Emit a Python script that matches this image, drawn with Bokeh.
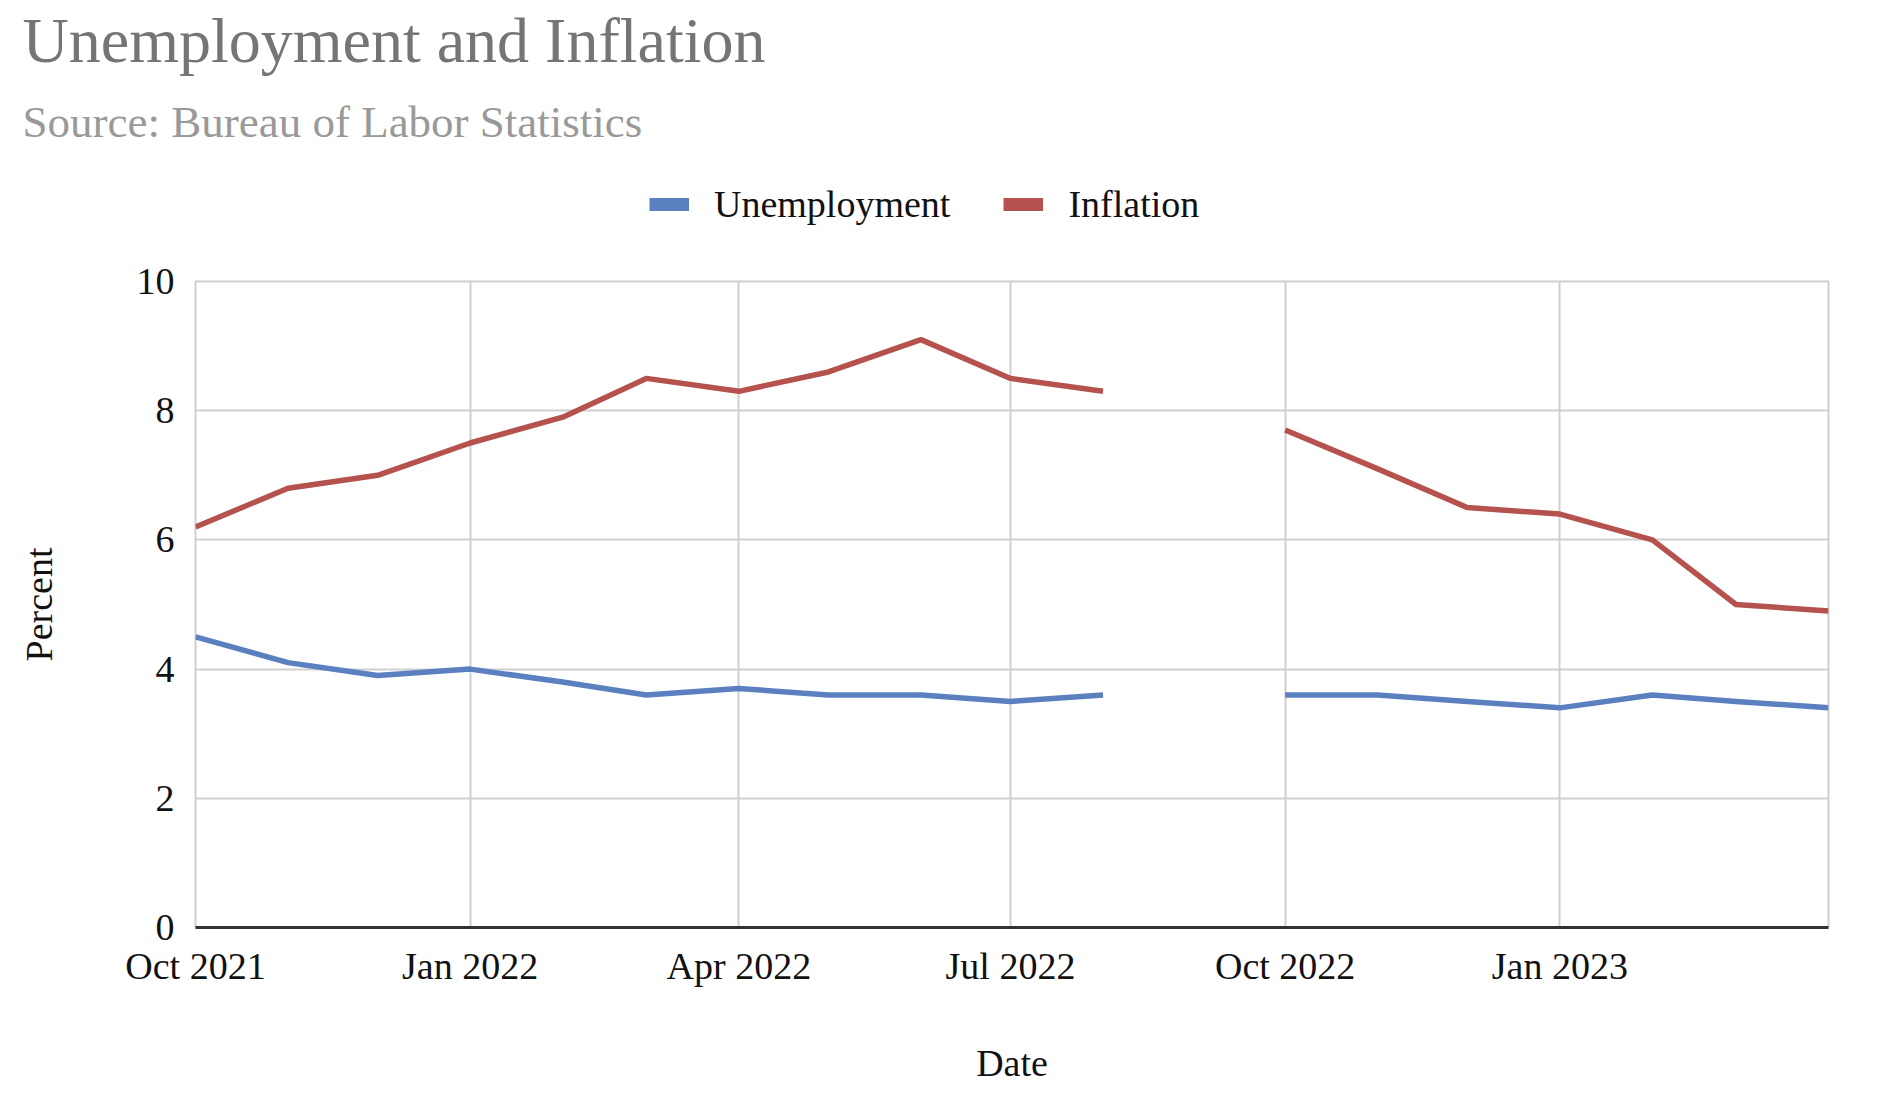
import numpy as np
import pandas as pd
from bokeh.plotting import figure
from bokeh.models import (Range1d, FixedTicker, DatetimeTickFormatter, Label,
                          Legend, LegendItem, ColumnDataSource)
from bokeh.embed import file_html
from bokeh.resources import INLINE

# ---------------- data ----------------
months = ["2021-10", "2021-11", "2021-12", "2022-01", "2022-02", "2022-03",
          "2022-04", "2022-05", "2022-06", "2022-07", "2022-08", "2022-09",
          "2022-10", "2022-11", "2022-12", "2023-01", "2023-02", "2023-03",
          "2023-04"]
unemployment = [4.5, 4.1, 3.9, 4.0, 3.8, 3.6, 3.7, 3.6, 3.6, 3.5, 3.6, None,
                3.6, 3.6, 3.5, 3.4, 3.6, 3.5, 3.4]
inflation = [6.2, 6.8, 7.0, 7.5, 7.9, 8.5, 8.3, 8.6, 9.1, 8.5, 8.3, None,
             7.7, 7.1, 6.5, 6.4, 6.0, 5.0, 4.9]
tick_months = ["2021-10", "2022-01", "2022-04", "2022-07", "2022-10", "2023-01"]
y_ticks = [0, 2, 4, 6, 8, 10]

title_text = "Unemployment and Inflation"
subtitle_text = "Source: Bureau of Labor Statistics"
series_names = ["Unemployment", "Inflation"]
series_colors = ["#5a80c0", "#b5524d"]

FONT = "Liberation Serif"
W = 1904
HEAD_H = 241
MAIN_H = 1112 - HEAD_H

dates = pd.to_datetime(months)
src = ColumnDataSource(dict(
    x=dates,
    u=[np.nan if v is None else v for v in unemployment],
    i=[np.nan if v is None else v for v in inflation],
))

# ---------------- header: title, subtitle, legend ----------------
head = figure(width=W, height=HEAD_H, output_backend="svg", toolbar_location=None,
              x_range=Range1d(0, W), y_range=Range1d(HEAD_H, 0),
              x_axis_location=None, y_axis_location=None,
              min_border=0, title=None)
head.grid.visible = False
head.outline_line_color = None

head.add_layout(Label(x=22, y=40, text=title_text, text_align="left",
                      text_baseline="alphabetic", text_font=FONT,
                      text_font_size="64px", text_color="#757575"))
head.add_layout(Label(x=22, y=121, text=subtitle_text, text_align="left",
                      text_baseline="alphabetic", text_font=FONT,
                      text_font_size="45px", text_color="#999999"))

swatches = []
for c in series_colors:
    r = head.line(x=[0], y=[np.nan], line_color=c, line_width=13, line_cap="butt")
    swatches.append(r)
legend = Legend(items=[LegendItem(label=n, renderers=[r]) for n, r in zip(series_names, swatches)],
                orientation="horizontal", location=(649, HEAD_H - 226),
                glyph_width=40, glyph_height=42, label_height=42,
                label_standoff=25, spacing=53, padding=0, margin=0,
                border_line_color=None, background_fill_alpha=0,
                label_text_font=FONT, label_text_font_size="38px",
                label_text_color="#111111")
head.add_layout(legend)

# ---------------- main chart ----------------
p = figure(width=W, height=MAIN_H, output_backend="svg", toolbar_location=None,
           x_axis_type="datetime", title=None,
           x_range=Range1d(dates[0], dates[-1]), y_range=Range1d(0, 10),
           min_border_left=195, min_border_right=76,
           min_border_top=40, min_border_bottom=185)
p.outline_line_color = "#cfcfcf"
p.outline_line_width = 2

for g in (p.xgrid, p.ygrid):
    g.grid_line_color = "#cfcfcf"
    g.grid_line_width = 2

p.line("x", "u", source=src, line_color=series_colors[0], line_width=5.5,
       line_join="round")
p.line("x", "i", source=src, line_color=series_colors[1], line_width=5.5,
       line_join="round")

tick_ms = [pd.Timestamp(m).value // 10**6 for m in tick_months]
p.xaxis.ticker = FixedTicker(ticks=tick_ms)
fmt = "%b %Y"
p.xaxis.formatter = DatetimeTickFormatter(
    microseconds=fmt, milliseconds=fmt, seconds=fmt, minsec=fmt, minutes=fmt,
    hourmin=fmt, hours=fmt, days=fmt, months=fmt, years=fmt)
p.xaxis.axis_line_color = "#333333"
p.xaxis.axis_line_width = 3
p.xaxis.major_tick_line_color = None
p.xaxis.minor_tick_line_color = None
p.xaxis.major_tick_out = 0
p.xaxis.major_tick_in = 0
p.xaxis.major_label_standoff = 17
p.xaxis.major_label_text_font = FONT
p.xaxis.major_label_text_font_size = "38px"
p.xaxis.major_label_text_color = "#111111"
p.xaxis.axis_label = "Date"
p.xaxis.axis_label_text_font = FONT
p.xaxis.axis_label_text_font_size = "38px"
p.xaxis.axis_label_text_font_style = "normal"
p.xaxis.axis_label_text_color = "#111111"
p.xaxis.axis_label_standoff = 52

p.yaxis.ticker = FixedTicker(ticks=y_ticks)
p.yaxis.axis_line_color = None
p.yaxis.major_tick_line_color = None
p.yaxis.minor_tick_line_color = None
p.yaxis.major_tick_out = 0
p.yaxis.major_tick_in = 0
p.yaxis.major_label_standoff = 21
p.yaxis.major_label_text_font = FONT
p.yaxis.major_label_text_font_size = "38px"
p.yaxis.major_label_text_color = "#111111"
p.yaxis.axis_label = "Percent"
p.yaxis.axis_label_text_font = FONT
p.yaxis.axis_label_text_font_size = "38px"
p.yaxis.axis_label_text_font_style = "normal"
p.yaxis.axis_label_text_color = "#111111"
p.yaxis.axis_label_standoff = 74

# two independent roots, stacked vertically on the page
open("out.html", "w").write(file_html([head, p], INLINE))
